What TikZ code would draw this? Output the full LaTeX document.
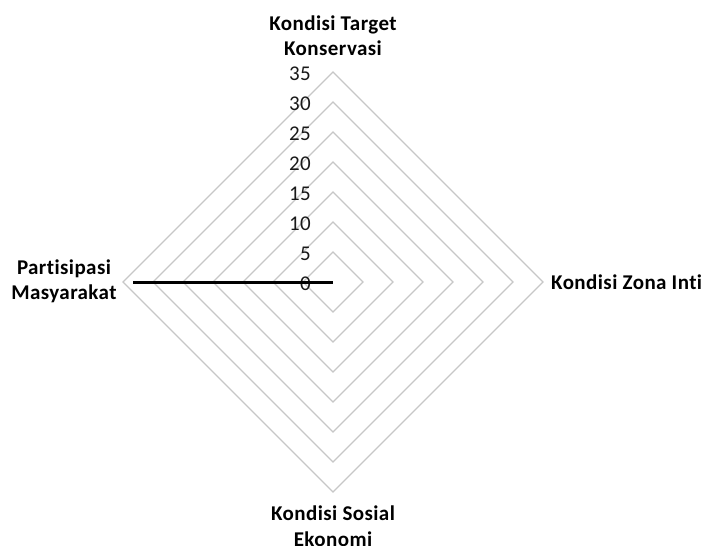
\documentclass[tikz,border=0pt]{standalone}
\usepackage{fontspec}
\setmainfont{Carlito}[LetterSpace=2,Ligatures=NoCommon]
\begin{document}
\begin{tikzpicture}[x=1pt,y=-1pt,
  gridline/.style={draw=black!22, line width=1.4pt},
  ticklabel/.style={font=\fontsize{21}{25}\selectfont, anchor=east, inner sep=0pt, text=black!90},
  axislabel/.style={font=\bfseries\fontsize{21}{25.5}\selectfont, align=center, inner sep=0pt, text=black},
  dataline/.style={draw=black, line width=3pt}]
\useasboundingbox (0,0) rectangle (702,546);
\coordinate (c) at (333,282);
\foreach \r in {30,60,...,210}
  \draw[gridline] (333,282-\r) -- (333+\r,282) -- (333,282+\r) -- (333-\r,282) -- cycle;
\foreach \v in {0,5,...,35}
  \node[ticklabel] (t\v) at (311,283.5-6*\v) {\v};
\node[axislabel] (top) at (333,35.5) {Kondisi Target\\Konservasi};
\node[axislabel] (left) at (64,281.5) {Partisipasi\\Masyarakat};
\node[axislabel, anchor=west] (right) at (551,282) {Kondisi Zona Inti};
\node[axislabel] (bottom) at (333,526) {Kondisi Sosial\\Ekonomi};
\coordinate (d) at (133,282);
\draw[dataline] (d) -- (c);
\end{tikzpicture}
\end{document}
